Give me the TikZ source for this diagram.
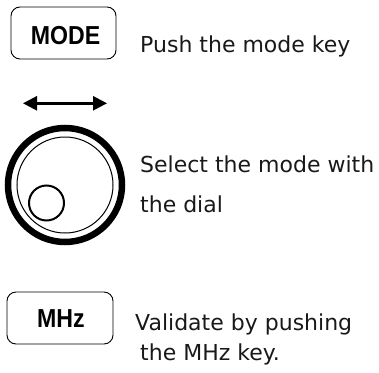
\documentclass[tikz,border=0pt]{standalone}
\usepackage{fontspec}
\setmainfont{DejaVu Sans}
\newfontfamily\keyfont{Liberation Sans}
\usetikzlibrary{arrows.meta}
\tikzset{
  keybox/.style={draw, line width=0.9pt, rounded corners=9pt, minimum width=#1, minimum height=52pt, inner sep=0pt},
  keytext/.style={anchor=base, inner sep=0pt, font=\keyfont\bfseries\fontsize{26}{30}\selectfont},
  desc/.style={anchor=base west, inner sep=0pt, font=\fontsize{22}{26}\selectfont, text=black!90},
}
\begin{document}
\begin{tikzpicture}[x=1pt,y=-1pt]
\useasboundingbox (0,0) rectangle (379,372);
% MODE key
\node[keybox=105pt] (modebox) at (63.5,33) {};
\node[keytext] (modetxt) at (65.5,44) {\scalebox{0.89}[1]{MODE}};
\node[desc] (t1) at (140,52) {Push the mode key};
% arrow
\coordinate (al) at (23,103.3);
\coordinate (ar) at (107,103.3);
\draw[line width=2.5pt, {Triangle[length=14pt,width=14pt]}-{Triangle[length=14pt,width=14pt]}] (al) -- (ar);
% dial
\node[draw, circle, line width=6.5pt, minimum size=114pt, inner sep=0pt] (dialout) at (65,185) {};
\node[draw, circle, line width=1pt, minimum size=96pt, inner sep=0pt] (dialin) at (65,185) {};
\node[draw, circle, line width=2pt, minimum size=35pt, inner sep=0pt] (knob) at (46.5,203) {};
\node[desc] (t2) at (140,172) {Select the mode with};
\node[desc] (t3) at (140,212) {the dial};
% MHz key
\node[keybox=106pt] (mhzbox) at (60,318) {};
\node[keytext] (mhztxt) at (61,327) {\scalebox{0.89}[1]{MHz}};
\node[desc] (t4) at (135,330) {Validate by pushing};
\node[desc] (t5) at (140,360) {the MHz key.};
\end{tikzpicture}
\end{document}
